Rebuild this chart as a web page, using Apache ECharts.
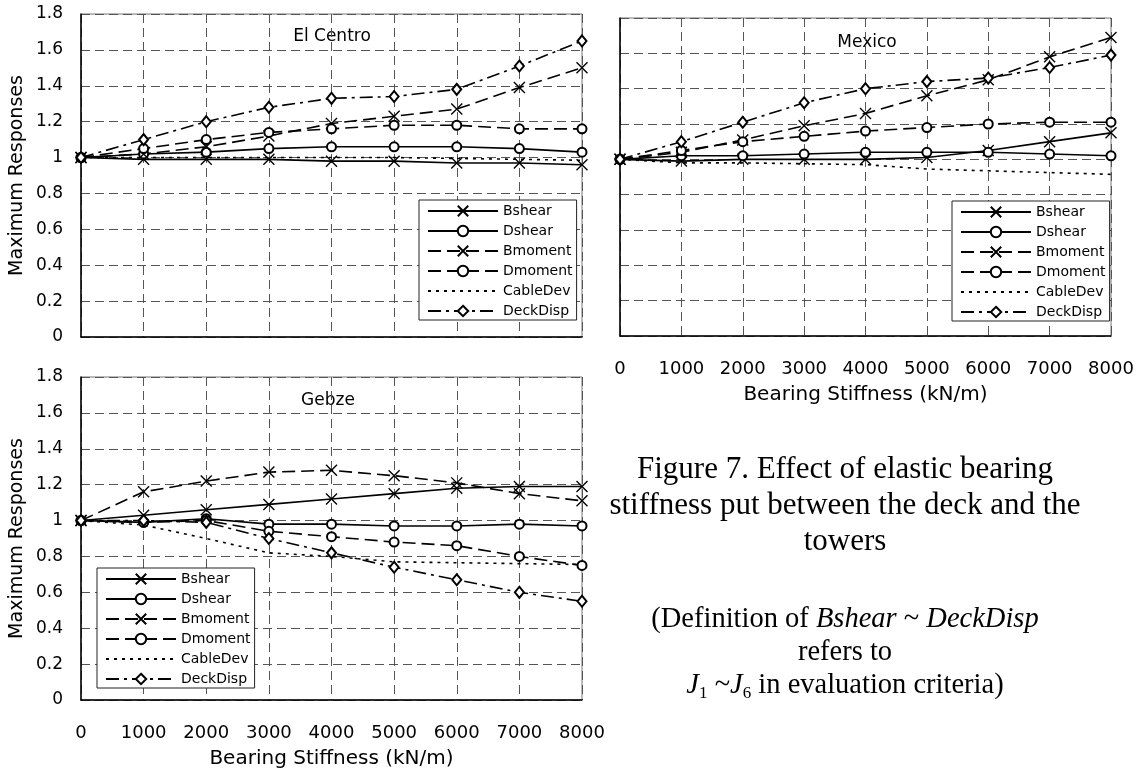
<!DOCTYPE html>
<html>
<head>
<meta charset="utf-8">
<script src="https://cdn.jsdelivr.net/npm/echarts@6/dist/echarts.min.js"></script>
<style>
  html, body { margin: 0; padding: 0; background: #ffffff; }
  #chart { width: 1141px; height: 771px; }
</style>
</head>
<body>
<div id="chart"></div>
<script>
// bearing stiffness (kN/m)
const stiffness = [0, 1000, 2000, 3000, 4000, 5000, 6000, 7000, 8000]
const seriesNames = ['Bshear', 'Dshear', 'Bmoment', 'Dmoment', 'CableDev', 'DeckDisp']

// El Centro
const elCentroBshear = [1.0, 0.99, 0.99, 0.99, 0.98, 0.98, 0.97, 0.97, 0.96]
const elCentroDshear = [1.0, 1.02, 1.03, 1.05, 1.06, 1.06, 1.06, 1.05, 1.03]
const elCentroBmoment = [1.0, 1.02, 1.06, 1.12, 1.19, 1.23, 1.27, 1.39, 1.50]
const elCentroDmoment = [1.0, 1.05, 1.10, 1.14, 1.16, 1.18, 1.18, 1.16, 1.16]
const elCentroCableDev = [1.0, 1.0, 1.0, 1.0, 1.0, 1.0, 0.995, 0.99, 0.985]
const elCentroDeckDisp = [1.0, 1.10, 1.20, 1.28, 1.33, 1.34, 1.38, 1.51, 1.65]

// Mexico
const mexicoBshear = [1.0, 0.99, 1.0, 1.0, 1.0, 1.01, 1.05, 1.10, 1.15]
const mexicoDshear = [1.0, 1.02, 1.02, 1.03, 1.04, 1.04, 1.04, 1.03, 1.02]
const mexicoBmoment = [1.0, 1.04, 1.11, 1.19, 1.26, 1.36, 1.45, 1.58, 1.69]
const mexicoDmoment = [1.0, 1.05, 1.10, 1.13, 1.16, 1.18, 1.20, 1.21, 1.21]
const mexicoCableDev = [1.0, 0.98, 0.98, 0.975, 0.97, 0.945, 0.935, 0.925, 0.915]
const mexicoDeckDisp = [1.0, 1.10, 1.21, 1.32, 1.40, 1.44, 1.46, 1.52, 1.59]

// Gebze
const gebzeBshear = [1.0, 1.03, 1.06, 1.09, 1.12, 1.15, 1.18, 1.19, 1.19]
const gebzeDshear = [1.0, 0.99, 1.01, 0.98, 0.98, 0.97, 0.97, 0.98, 0.97]
const gebzeBmoment = [1.0, 1.16, 1.22, 1.27, 1.28, 1.25, 1.21, 1.15, 1.11]
const gebzeDmoment = [1.0, 0.99, 1.0, 0.94, 0.91, 0.88, 0.86, 0.80, 0.75]
const gebzeCableDev = [1.0, 0.975, 0.90, 0.82, 0.80, 0.77, 0.765, 0.76, 0.755]
const gebzeDeckDisp = [1.0, 1.0, 0.99, 0.90, 0.82, 0.74, 0.67, 0.60, 0.55]

const CROSS = 'path://M0,0L10,10M10,0L0,10'
const FONT = 'DejaVu Sans'
const SERIF = 'Liberation Serif'

const STYLES = {
  Bshear: { type: 'solid', symbol: CROSS, size: 11 },
  Dshear: { type: 'solid', symbol: 'emptyCircle', size: 9 },
  Bmoment: { type: [13, 6], symbol: CROSS, size: 11 },
  Dmoment: { type: [13, 6], symbol: 'emptyCircle', size: 9 },
  CableDev: { type: [3, 5], symbol: 'none', size: 0 },
  DeckDisp: { type: [13, 5, 3, 5], symbol: 'emptyDiamond', size: [9, 11] }
}

const makeSeries = (gridIndex, lists) => lists.map((values, i) => {
  const name = seriesNames[i]
  const st = STYLES[name]
  return {
    name,
    type: 'line',
    xAxisIndex: gridIndex,
    yAxisIndex: gridIndex,
    data: stiffness.map((x, k) => [x, values[k]]),
    symbol: st.symbol,
    symbolSize: st.size,
    showSymbol: st.symbol !== 'none',
    lineStyle: { color: '#000', width: 1.6, type: st.type },
    itemStyle: { color: '#000', borderColor: '#000', borderWidth: 1.4 },
    z: 3
  }
})

// the dotted series has no marker, so its legend icon must not get one
const legendData = seriesNames.map((name) => name === 'CableDev'
  ? { name, itemStyle: { color: 'rgba(0,0,0,0)', borderColor: 'rgba(0,0,0,0)', borderWidth: 0 } }
  : { name })

const gridLine = { show: true, lineStyle: { color: '#555', width: 1, type: [9, 5] } }

const makeX = (gridIndex, showLabel) => ({
  type: 'value',
  gridIndex,
  min: 0,
  max: 8000,
  interval: 1000,
  axisLine: { show: true, lineStyle: { color: '#000', width: 1.5 } },
  axisTick: { show: false },
  splitLine: gridLine,
  axisLabel: {
    show: showLabel,
    color: '#000',
    fontFamily: FONT,
    fontSize: 18,
    margin: 24,
    formatter: (v) => String(v)
  },
  name: showLabel ? 'Bearing Stiffness (kN/m)' : '',
  nameLocation: 'middle',
  nameGap: 49,
  nameTextStyle: { color: '#000', fontFamily: FONT, fontSize: 20 }
})

const makeY = (gridIndex, showLabel) => ({
  type: 'value',
  gridIndex,
  min: 0,
  max: 1.8,
  interval: 0.2,
  axisLine: { show: true, lineStyle: { color: '#000', width: 1.5 } },
  axisTick: { show: false },
  splitLine: gridLine,
  axisLabel: { show: showLabel, color: '#000', fontFamily: FONT, fontSize: 17, margin: 18 },
  name: showLabel ? 'Maximum Responses' : '',
  nameLocation: 'middle',
  nameGap: 54,
  nameTextStyle: { color: '#000', fontFamily: FONT, fontSize: 19 }
})

const makeLegend = (left, top) => ({
  orient: 'vertical',
  left,
  top,
  data: legendData,
  selectedMode: false,
  itemWidth: 70,
  itemHeight: 13,
  itemGap: 6,
  padding: [4, 4, 2, 8],
  backgroundColor: '#fff',
  borderColor: '#222',
  borderWidth: 1,
  textStyle: { color: '#000', fontFamily: FONT, fontSize: 14 }
})

const titleText = (text, x, y) => ({
  type: 'text',
  x,
  y,
  style: { text, fill: '#000', font: `17px "${FONT}"`, align: 'center', verticalAlign: 'middle' }
})

const chart = echarts.init(document.getElementById('chart'))

chart.setOption({
  backgroundColor: '#ffffff',
  animation: false,
  grid: [
    { left: 81, top: 14, width: 501, height: 323, show: true, borderColor: '#777', borderWidth: 1, backgroundColor: '#fff' },
    { left: 620, top: 18, width: 491, height: 318, show: true, borderColor: '#777', borderWidth: 1, backgroundColor: '#fff' },
    { left: 81, top: 377, width: 501, height: 323, show: true, borderColor: '#777', borderWidth: 1, backgroundColor: '#fff' }
  ],
  xAxis: [makeX(0, false), makeX(1, true), makeX(2, true)],
  yAxis: [makeY(0, true), makeY(1, false), makeY(2, true)],
  legend: [makeLegend(419, 200), makeLegend(952, 201), makeLegend(97, 568)],
  series: [
    ...makeSeries(0, [elCentroBshear, elCentroDshear, elCentroBmoment, elCentroDmoment, elCentroCableDev, elCentroDeckDisp]),
    ...makeSeries(1, [mexicoBshear, mexicoDshear, mexicoBmoment, mexicoDmoment, mexicoCableDev, mexicoDeckDisp]),
    ...makeSeries(2, [gebzeBshear, gebzeDshear, gebzeBmoment, gebzeDmoment, gebzeCableDev, gebzeDeckDisp])
  ],
  graphic: [
    titleText('El Centro', 332, 37),
    titleText('Mexico', 867, 43),
    titleText('Gebze', 328, 401),
    {
      type: 'text',
      x: 845,
      y: 506,
      style: {
        text: 'Figure 7. Effect of elastic bearing\nstiffness put between the deck and the\ntowers',
        fill: '#000',
        font: `31px "${SERIF}"`,
        lineHeight: 36,
        align: 'center',
        verticalAlign: 'middle'
      }
    },
    {
      type: 'text',
      x: 845,
      y: 653,
      style: {
        text: '(Definition of {i|Bshear} ~ {i|DeckDisp}\nrefers to\n{i|J}{sub|1} ~{i|J}{sub|6} in evaluation criteria)',
        fill: '#000',
        fontFamily: SERIF,
        fontSize: 28.5,
        lineHeight: 33,
        align: 'center',
        verticalAlign: 'middle',
        rich: {
          i: { fontFamily: SERIF, fontSize: 28.5, fontStyle: 'italic', lineHeight: 33 },
          sub: { fontFamily: SERIF, fontSize: 17, lineHeight: 17, verticalAlign: 'bottom' }
        }
      }
    }
  ]
})
</script>
</body>
</html>
